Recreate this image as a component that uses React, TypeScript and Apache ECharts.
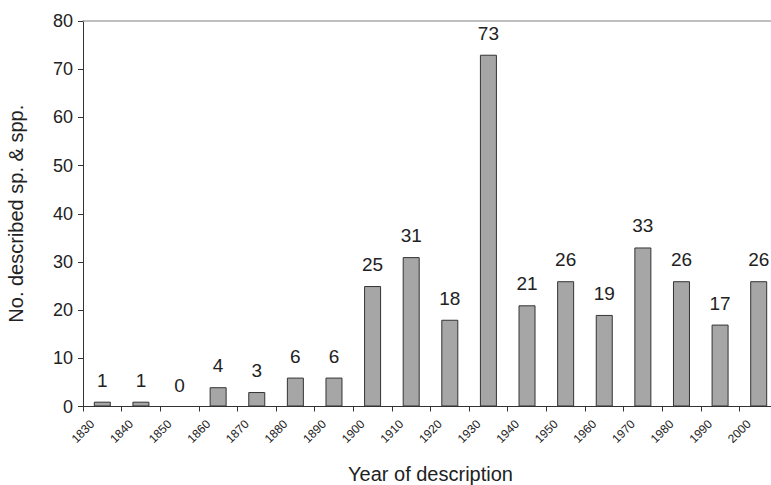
import React, { useEffect, useRef } from "react";
import * as echarts from "echarts";

const decades = [1830, 1840, 1850, 1860, 1870, 1880, 1890, 1900, 1910, 1920, 1930, 1940, 1950, 1960, 1970, 1980, 1990, 2000];
const counts = [1, 1, 0, 4, 3, 6, 6, 25, 31, 18, 73, 21, 26, 19, 33, 26, 17, 26];
const yTitle = "No. described sp. & spp.";
const xTitle = "Year of description";

export default function App() {
  const ref = useRef<HTMLDivElement>(null);
  useEffect(() => {
    if (!ref.current) return;
    const chart = echarts.init(ref.current, undefined, { renderer: "svg" });
    const font = "'Liberation Sans', Arial, sans-serif";
    chart.setOption({
      animation: false,
      backgroundColor: "#fff",
      grid: { left: 83, right: -7, top: 21, bottom: 78.5, containLabel: false, outerBoundsMode: "none" },
      xAxis: [
        {
          type: "value",
          min: 1830,
          max: 2010,
          interval: 10,
          name: xTitle,
          nameLocation: "middle",
          nameGap: 57,
          nameTextStyle: { fontFamily: font, fontSize: 20, color: "#222" },
          axisLine: { show: true, lineStyle: { color: "#333", width: 1 } },
          axisTick: { show: true, length: 5, lineStyle: { color: "#333" } },
          axisLabel: {
            rotate: 45,
            margin: 25,
            align: "center",
            verticalAlign: "middle",
            fontFamily: font,
            fontSize: 12,
            color: "#222",
            formatter: (v: number) => (v >= 2010 ? "" : String(v)),
          },
          splitLine: { show: false },
        },
        {
          type: "value",
          position: "top",
          min: 1830,
          max: 2010,
          axisLine: { show: true, lineStyle: { color: "#aaa", width: 1.5 } },
          axisTick: { show: false },
          axisLabel: { show: false },
          splitLine: { show: false },
        },
      ],
      yAxis: {
        type: "value",
        min: 0,
        max: 80,
        interval: 10,
        name: yTitle,
        nameLocation: "middle",
        nameGap: 57,
        nameTextStyle: { fontFamily: font, fontSize: 20, color: "#222" },
        axisLine: { show: true, lineStyle: { color: "#333", width: 1 } },
        axisTick: { show: true, length: 5, lineStyle: { color: "#333" } },
        axisLabel: { fontFamily: font, fontSize: 18, color: "#222", margin: 10 },
        splitLine: { show: false },
      },
      series: [
        {
          type: "bar",
          xAxisIndex: 0,
          data: decades.map((d, i) => ({
            value: [d + 5, counts[i]],
            itemStyle: counts[i] === 0 ? { borderWidth: 0, color: "transparent" } : undefined,
          })),
          barWidth: 17,
          itemStyle: { color: "#a6a6a6", borderColor: "#333", borderWidth: 1 },
          label: {
            show: true,
            position: "top",
            distance: 12,
            fontFamily: font,
            fontSize: 19,
            color: "#222",
            formatter: (p: any) => String(p.value[1]),
          },
        },
      ],
    });
    return () => chart.dispose();
  }, []);
  return (
    <div
      ref={ref}
      style={{ position: "fixed", left: 0, top: 0, width: 771, height: 485, overflow: "hidden" }}
    />
  );
}
